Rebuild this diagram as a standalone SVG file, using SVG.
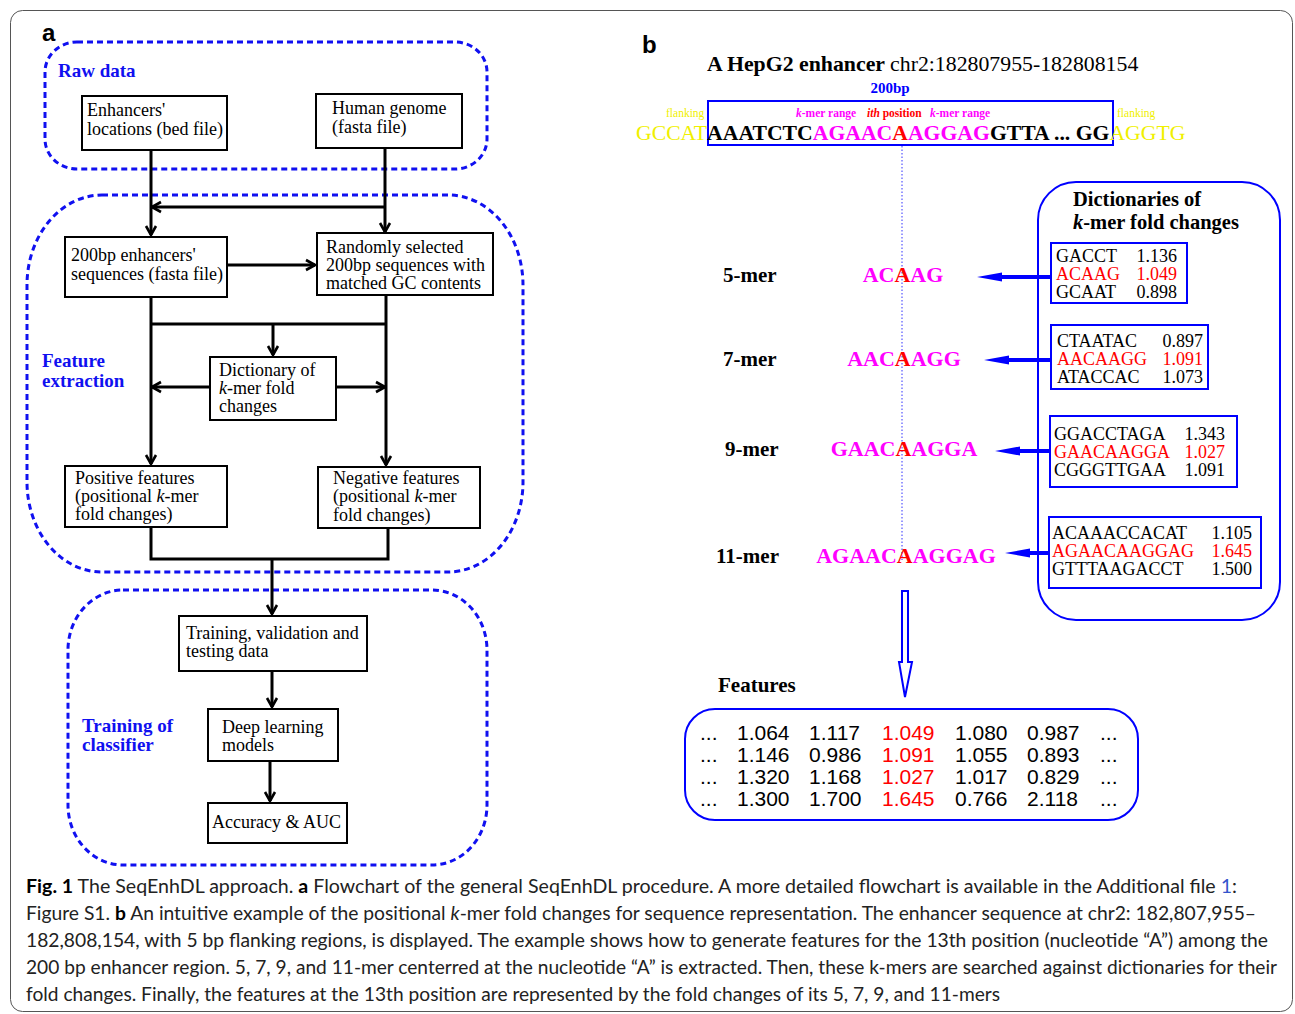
<svg xmlns="http://www.w3.org/2000/svg" width="1295" height="1014" viewBox="0 0 1295 1014">
<defs>
<style>
.ser{font-family:"Liberation Serif","Times New Roman",serif;}
.bx{fill:#fff;stroke:#000;stroke-width:2;}
.ft{font-family:"Liberation Serif",serif;font-size:18px;fill:#000;}
.grp{fill:none;stroke:#1010f0;stroke-width:3;stroke-dasharray:6 4;}
.glab{font-family:"Liberation Serif",serif;font-size:19px;font-weight:bold;fill:#1010f0;}
.ln{fill:none;stroke:#000;stroke-width:3;}
.dict{font-family:"Liberation Serif",serif;font-size:18px;fill:#000;}
.red{fill:#ff0000;}
.mag{fill:#ff00ff;}
.yel{fill:#f0f000;}
.kl{font-family:"Liberation Serif",serif;font-size:21px;font-weight:bold;fill:#000;}
.km{font-family:"Liberation Serif",serif;font-size:22px;font-weight:bold;fill:#ff00ff;}
.num{font-family:"Liberation Sans",Arial,sans-serif;font-size:21px;fill:#000;}
.bl{fill:none;stroke:#0000ff;stroke-width:2;}
.cap{font-family:Lato,"Liberation Sans",sans-serif;font-size:18.5px;fill:#222;}
</style>
<marker id="ah" markerUnits="userSpaceOnUse" markerWidth="14" markerHeight="14" viewBox="0 0 14 14" refX="12" refY="7" orient="auto">
<path d="M3,2 L12,7 L3,12" fill="none" stroke="#000" stroke-width="2.6"/>
</marker>
</defs>
<rect x="0" y="0" width="1295" height="1014" fill="#fff"/>
<rect x="10.5" y="10.5" width="1282" height="1001" rx="12" fill="none" stroke="#555" stroke-width="1"/>

<!-- Panel labels -->
<text x="42" y="41" font-family="Liberation Sans,Arial,sans-serif" font-size="24" font-weight="bold">a</text>
<text x="642" y="53" font-family="Liberation Sans,Arial,sans-serif" font-size="24" font-weight="bold">b</text>

<!-- Group regions -->
<g id="region-raw">
<rect class="grp" x="45" y="42" width="442" height="127" rx="32" ry="30"/>
<text class="glab" x="58" y="77">Raw data</text>
</g>
<g id="region-feature">
<rect class="grp" x="27" y="195" width="496" height="377" rx="75" ry="90"/>
<text class="glab" x="42" y="367">Feature</text>
<text class="glab" x="42" y="387">extraction</text>
</g>
<g id="region-training">
<rect class="grp" x="68" y="590" width="419" height="275" rx="55" ry="60"/>
<text class="glab" x="82" y="732">Training of</text>
<text class="glab" x="82" y="751">classifier</text>
</g>

<!-- Flowchart nodes -->
<g id="node-enhancers">
<rect class="bx" x="82" y="96" width="145" height="54"/>
<text class="ft" x="87" y="116">Enhancers'</text>
<text class="ft" x="87" y="135">locations (bed file)</text>
</g>
<g id="node-genome">
<rect class="bx" x="316" y="94" width="146" height="54"/>
<text class="ft" x="332" y="114">Human genome</text>
<text class="ft" x="332" y="133">(fasta file)</text>
</g>
<g id="node-seq">
<rect class="bx" x="65" y="237" width="162" height="60"/>
<text class="ft" x="71" y="261">200bp enhancers'</text>
<text class="ft" x="71" y="280">sequences (fasta file)</text>
</g>
<g id="node-random">
<rect class="bx" x="317" y="233" width="176" height="62"/>
<text class="ft" x="326" y="253">Randomly selected</text>
<text class="ft" x="326" y="271">200bp sequences with</text>
<text class="ft" x="326" y="289">matched GC contents</text>
</g>
<g id="node-dict">
<rect class="bx" x="210" y="357" width="126" height="63"/>
<text class="ft" x="219" y="376">Dictionary of</text>
<text class="ft" x="219" y="394"><tspan font-style="italic">k</tspan>-mer fold</text>
<text class="ft" x="219" y="412">changes</text>
</g>
<g id="node-pos">
<rect class="bx" x="65" y="466" width="162" height="61"/>
<text class="ft" x="75" y="484">Positive features</text>
<text class="ft" x="75" y="502">(positional <tspan font-style="italic">k</tspan>-mer</text>
<text class="ft" x="75" y="520">fold changes)</text>
</g>
<g id="node-neg">
<rect class="bx" x="318" y="467" width="162" height="61"/>
<text class="ft" x="333" y="484">Negative features</text>
<text class="ft" x="333" y="502">(positional <tspan font-style="italic">k</tspan>-mer</text>
<text class="ft" x="333" y="521">fold changes)</text>
</g>
<g id="node-tvt">
<rect class="bx" x="179" y="616" width="188" height="55"/>
<text class="ft" x="186" y="639">Training, validation and</text>
<text class="ft" x="186" y="657">testing data</text>
</g>
<g id="node-dl">
<rect class="bx" x="208" y="709" width="130" height="52"/>
<text class="ft" x="222" y="733">Deep learning</text>
<text class="ft" x="222" y="751">models</text>
</g>
<g id="node-acc">
<rect class="bx" x="208" y="803" width="139" height="40"/>
<text class="ft" x="212" y="828">Accuracy &amp; AUC</text>
</g>

<!-- Flowchart connectors -->
<g id="connectors-a">
<path class="ln" d="M151,150 V235" marker-end="url(#ah)"/>
<path class="ln" d="M385,148 V232" marker-end="url(#ah)"/>
<path class="ln" d="M385,207 H152" marker-end="url(#ah)"/>
<path class="ln" d="M227,265 H315" marker-end="url(#ah)"/>
<path class="ln" d="M151,297 V464" marker-end="url(#ah)"/>
<path class="ln" d="M386,295 V465" marker-end="url(#ah)"/>
<path class="ln" d="M151,324 H386"/>
<path class="ln" d="M273,324 V355" marker-end="url(#ah)"/>
<path class="ln" d="M210,387 H152" marker-end="url(#ah)"/>
<path class="ln" d="M336,387 H385" marker-end="url(#ah)"/>
<path class="ln" d="M151,527 V559 H388 V528"/>
<path class="ln" d="M272,559 V614" marker-end="url(#ah)"/>
<path class="ln" d="M272,671 V707" marker-end="url(#ah)"/>
<path class="ln" d="M270,761 V801" marker-end="url(#ah)"/>
</g>

<!-- Panel b -->
<g id="title-b">
<text class="ser" x="707" y="71" font-size="21.8"><tspan font-weight="bold">A HepG2 enhancer </tspan>chr2:182807955-182808154</text>
<text class="ser" x="890" y="93" font-size="15" font-weight="bold" fill="#0000ff" text-anchor="middle">200bp</text>
</g>
<g id="sequence">
<rect class="bl" x="708" y="101" width="405" height="44"/>
<g class="ser" font-size="11.5">
<text class="yel" x="666" y="117">flanking</text>
<text class="mag" x="796" y="117" font-weight="bold"><tspan font-style="italic">k</tspan>-mer range</text>
<text class="red" x="867" y="117" font-weight="bold"><tspan font-style="italic">ith</tspan> position</text>
<text class="mag" x="930" y="117" font-weight="bold"><tspan font-style="italic">k</tspan>-mer range</text>
<text class="yel" x="1117" y="117">flanking</text>
</g>
<text class="ser" x="636" y="140" font-size="21.7"><tspan class="yel">GCCAT</tspan><tspan font-weight="bold">AAATCTC</tspan><tspan font-weight="bold" class="mag">AGAAC</tspan><tspan font-weight="bold" class="red">A</tspan><tspan font-weight="bold" class="mag">AGGAG</tspan><tspan font-weight="bold">GTTA ... GG</tspan><tspan class="yel">AGGTG</tspan></text>
<line x1="902" y1="146" x2="902" y2="560" stroke="#3030ff" stroke-width="1" stroke-dasharray="1.5 2"/>
</g>

<g id="kmers">
<text class="kl" x="723" y="282">5-mer</text>
<text class="kl" x="723" y="366">7-mer</text>
<text class="kl" x="725" y="456">9-mer</text>
<text class="kl" x="716" y="563">11-mer</text>
<text class="km" x="903" y="282" text-anchor="middle">AC<tspan class="red">A</tspan>AG</text>
<text class="km" x="904" y="366" text-anchor="middle">AAC<tspan class="red">A</tspan>AGG</text>
<text class="km" x="904" y="456" text-anchor="middle">GAAC<tspan class="red">A</tspan>AGGA</text>
<text class="km" x="906" y="563" text-anchor="middle">AGAAC<tspan class="red">A</tspan>AGGAG</text>
</g>

<g id="dictionaries">
<rect class="bl" x="1038" y="182" width="242" height="438" rx="38" ry="38"/>
<text class="ser" x="1073" y="206" font-size="20.5" font-weight="bold">Dictionaries of</text>
<text class="ser" x="1073" y="229" font-size="20.5" font-weight="bold"><tspan font-style="italic">k</tspan>-mer fold changes</text>
<g id="dict-5">
<rect class="bl" x="1051" y="243" width="136" height="60"/>
<text class="dict" x="1056" y="262">GACCT</text><text class="dict" x="1177" y="262" text-anchor="end">1.136</text>
<text class="dict red" x="1056" y="280">ACAAG</text><text class="dict red" x="1177" y="280" text-anchor="end">1.049</text>
<text class="dict" x="1056" y="298">GCAAT</text><text class="dict" x="1177" y="298" text-anchor="end">0.898</text>
</g>
<g id="dict-7">
<rect class="bl" x="1051" y="325" width="157" height="64"/>
<text class="dict" x="1057" y="347">CTAATAC</text><text class="dict" x="1203" y="347" text-anchor="end">0.897</text>
<text class="dict red" x="1057" y="365">AACAAGG</text><text class="dict red" x="1203" y="365" text-anchor="end">1.091</text>
<text class="dict" x="1057" y="383">ATACCAC</text><text class="dict" x="1203" y="383" text-anchor="end">1.073</text>
</g>
<g id="dict-9">
<rect class="bl" x="1050" y="416" width="187" height="71"/>
<text class="dict" x="1054" y="440">GGACCTAGA</text><text class="dict" x="1225" y="440" text-anchor="end">1.343</text>
<text class="dict red" x="1054" y="458">GAACAAGGA</text><text class="dict red" x="1225" y="458" text-anchor="end">1.027</text>
<text class="dict" x="1054" y="476">CGGGTTGAA</text><text class="dict" x="1225" y="476" text-anchor="end">1.091</text>
</g>
<g id="dict-11">
<rect class="bl" x="1049" y="517" width="212" height="71"/>
<text class="dict" x="1052" y="539">ACAAACCACAT</text><text class="dict" x="1252" y="539" text-anchor="end">1.105</text>
<text class="dict red" x="1052" y="557">AGAACAAGGAG</text><text class="dict red" x="1252" y="557" text-anchor="end">1.645</text>
<text class="dict" x="1052" y="575">GTTTAAGACCT</text><text class="dict" x="1252" y="575" text-anchor="end">1.500</text>
</g>
</g>

<g id="connectors-b" fill="#0000ff" stroke="none">
<line x1="998" y1="277" x2="1051" y2="277" stroke="#0000ff" stroke-width="4"/>
<polygon points="977,277 1002,272.5 1002,281.5"/>
<line x1="1005" y1="360" x2="1051" y2="360" stroke="#0000ff" stroke-width="4"/>
<polygon points="984,360 1009,355.5 1009,364.5"/>
<line x1="1016" y1="451" x2="1050" y2="451" stroke="#0000ff" stroke-width="4"/>
<polygon points="995,451 1020,446.5 1020,455.5"/>
<line x1="1026" y1="553" x2="1049" y2="553" stroke="#0000ff" stroke-width="4"/>
<polygon points="1005,553 1030,548.5 1030,557.5"/>
<path d="M902,591 H908 V662 H912 L905,697 L899,662 H902 Z" fill="none" stroke="#0000ff" stroke-width="2"/>
</g>

<g id="features">
<text class="ser" x="718" y="692" font-size="21" font-weight="bold">Features</text>
<rect class="bl" x="685" y="709" width="453" height="111" rx="30" ry="30"/>
<g class="num">
<text x="700" y="740">...</text><text x="737" y="740">1.064</text><text x="809" y="740">1.117</text><text class="red" x="882" y="740">1.049</text><text x="955" y="740">1.080</text><text x="1027" y="740">0.987</text><text x="1100" y="740">...</text>
<text x="700" y="762">...</text><text x="737" y="762">1.146</text><text x="809" y="762">0.986</text><text class="red" x="882" y="762">1.091</text><text x="955" y="762">1.055</text><text x="1027" y="762">0.893</text><text x="1100" y="762">...</text>
<text x="700" y="784">...</text><text x="737" y="784">1.320</text><text x="809" y="784">1.168</text><text class="red" x="882" y="784">1.027</text><text x="955" y="784">1.017</text><text x="1027" y="784">0.829</text><text x="1100" y="784">...</text>
<text x="700" y="806">...</text><text x="737" y="806">1.300</text><text x="809" y="806">1.700</text><text class="red" x="882" y="806">1.645</text><text x="955" y="806">0.766</text><text x="1027" y="806">2.118</text><text x="1100" y="806">...</text>
</g>
</g>

<g id="caption">
<text class="cap" x="26" y="893" textLength="1211" lengthAdjust="spacingAndGlyphs"><tspan font-weight="bold" fill="#000">Fig. 1</tspan>  The SeqEnhDL approach. <tspan font-weight="bold" fill="#000">a</tspan> Flowchart of the general SeqEnhDL procedure. A more detailed flowchart is available in the Additional file <tspan fill="#3355cc">1</tspan>:</text>
<text class="cap" x="26" y="920" textLength="1230" lengthAdjust="spacingAndGlyphs">Figure S1. <tspan font-weight="bold" fill="#000">b</tspan> An intuitive example of the positional <tspan font-style="italic">k</tspan>-mer fold changes for sequence representation. The enhancer sequence at chr2: 182,807,955–</text>
<text class="cap" x="26" y="947" textLength="1242" lengthAdjust="spacingAndGlyphs">182,808,154, with 5 bp flanking regions, is displayed. The example shows how to generate features for the 13th position (nucleotide “A”) among the</text>
<text class="cap" x="26" y="974" textLength="1251" lengthAdjust="spacingAndGlyphs">200 bp enhancer region. 5, 7, 9, and 11-mer centerred at the nucleotide “A” is extracted. Then, these k-mers are searched against dictionaries for their</text>
<text class="cap" x="26" y="1001" textLength="974" lengthAdjust="spacingAndGlyphs">fold changes. Finally, the features at the 13th position are represented by the fold changes of its 5, 7, 9, and 11-mers</text>
</g>
</svg>
